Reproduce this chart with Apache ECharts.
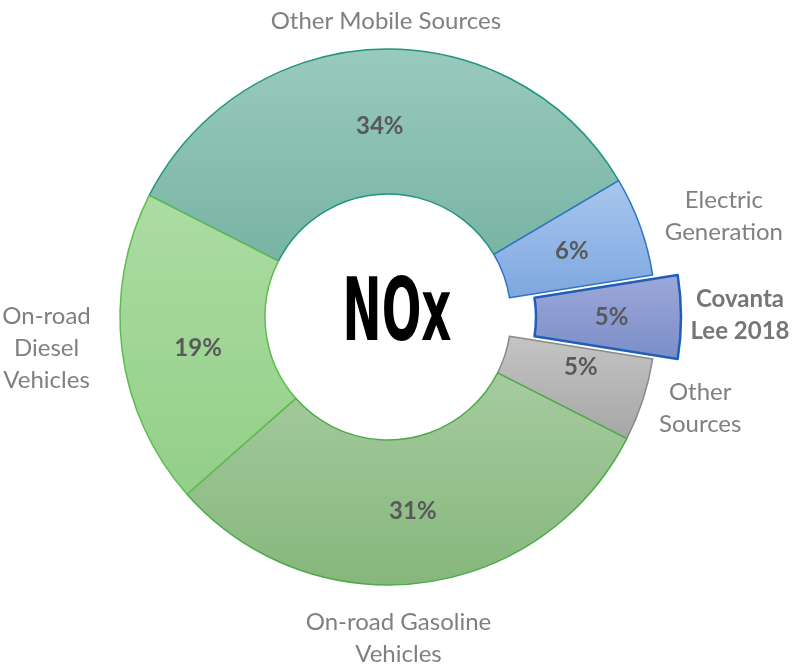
<!DOCTYPE html>
<html>
<head>
<meta charset="utf-8">
<script src="https://cdn.jsdelivr.net/npm/echarts@6/dist/echarts.min.js"></script>
<style>
html,body{margin:0;padding:0;background:#fff;}
#chart{width:793px;height:665px;}
</style>
</head>
<body>
<div id="chart"></div>
<script>
////--------------------------------------------------------------------////
const categories = ['Other Mobile Sources', 'Electric\nGeneration', 'Covanta\nLee 2018', 'Other\nSources', 'On-road Gasoline\nVehicles', 'On-road\nDiesel\nVehicles'];
const shares     = [34, 6, 5, 5, 31, 19];
const highlight  = 'Covanta\nLee 2018';
////--------------------------------------------------------------------////
// slice look: top colour, bottom colour, border
const slice_style = [
    ['#99cbbd', '#78b3a3', '#1f9480', 1.5],
    ['#a8c6ee', '#7ea7df', '#2e74c6', 1.5],
    ['#9ca8d8', '#7b8ec8', '#1f5fb8', 2.5],
    ['#c4c4c4', '#a6a6a6', '#8a8a8a', 1.5],
    ['#a6cb9f', '#86b77c', '#4dab49', 1.5],
    ['#acdca3', '#93cf88', '#5cbd50', 1.5]
];
// label nudges
const pct_nudge   = [[-2, 8], [-3, 2], [-2, -3], [4, -11], [0, -3], [7, 6]];
const label_nudge = [[8, 27, 'center'], [32, 9, 'center'], [29, -2, 'center'], [5, -9, 'left'], [-30, 1, 'center'], [-21, -9, 'center']];
////-------------------////
function grad(top, bottom) {
    return new echarts.graphic.LinearGradient(0, 0, 0, 1, [
        {offset: 0, color: top},
        {offset: 1, color: bottom}
    ]);
}
////-------------------////
const center = [388, 317];
const start  = 153;

const ring_data = shares.map((v, i) => {
    const look = {color: grad(slice_style[i][0], slice_style[i][1]), borderColor: slice_style[i][2], borderWidth: slice_style[i][3]};
    return {
        name: categories[i],
        value: v,
        selected: categories[i] === highlight,
        itemStyle: look,
        select: {itemStyle: look},
        label: {offset: pct_nudge[i]}
    };
});

const name_data = shares.map((v, i) => ({
    name: categories[i],
    value: v,
    label: {
        offset: [label_nudge[i][0], label_nudge[i][1]],
        align: label_nudge[i][2],
        fontWeight: categories[i] === highlight ? 'bold' : 'normal',
        color: categories[i] === highlight ? '#767676' : '#808080'
    }
}));

const option = {
    animation: false,
    backgroundColor: '#fff',
    series: [
        {
            type: 'pie',
            center: center,
            radius: [123, 268],
            startAngle: start,
            clockwise: true,
            silent: true,
            selectedMode: 'single',
            selectedOffset: 25,
            avoidLabelOverlap: false,
            label: {
                show: true,
                position: 'inside',
                formatter: '{c}%',
                fontFamily: 'Lato',
                fontWeight: 'bold',
                fontSize: 24,
                color: '#595959'
            },
            labelLine: {show: false},
            emphasis: {disabled: true},
            data: ring_data
        },
        {
            type: 'pie',
            center: center,
            radius: [300, 340],
            startAngle: start,
            clockwise: true,
            silent: true,
            avoidLabelOverlap: false,
            itemStyle: {color: 'rgba(0,0,0,0)', borderWidth: 0},
            label: {
                show: true,
                position: 'inside',
                formatter: '{b}',
                fontFamily: 'Lato',
                fontSize: 24,
                lineHeight: 32,
                color: '#808080'
            },
            labelLine: {show: false},
            emphasis: {disabled: true},
            data: name_data
        }
    ],
    graphic: [
        {
            type: 'group',
            x: 397,
            y: 317,
            scaleX: 0.53,
            silent: true,
            children: [{
                type: 'text',
                style: {
                    text: 'NOx',
                    font: 'bold 88px "DejaVu Sans"',
                    fill: '#000',
                    align: 'center',
                    verticalAlign: 'middle'
                }
            }]
        }
    ]
};

const chart = echarts.init(document.getElementById('chart'), null, {renderer: 'canvas'});
chart.setOption(option);
window.addEventListener('resize', chart.resize);
</script>
</body>
</html>
